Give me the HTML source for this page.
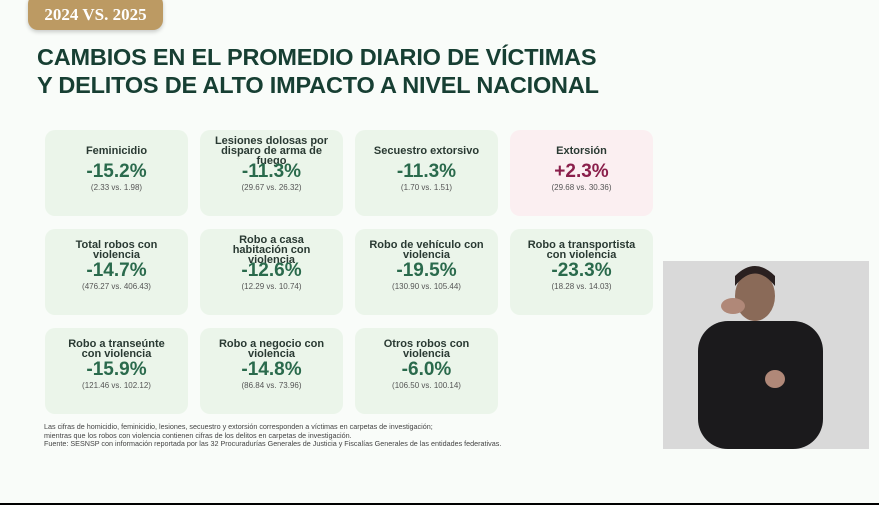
<!DOCTYPE html><html><head><meta charset="utf-8"><style>
body{margin:0;width:879px;height:505px;background:#f9fcf9;position:relative;overflow:hidden;font-family:"Liberation Sans",sans-serif}
.badge{position:absolute;left:28px;top:-6px;width:135px;height:36px;background:#bc9a63;border-radius:10px;color:#fff;font:bold 17px "Liberation Serif",serif;text-align:center;line-height:42px;box-shadow:0 2px 4px rgba(0,0,0,.2)}
.title{position:absolute;left:37px;top:43px;font-weight:bold;font-size:23.5px;line-height:28px;color:#173f33;letter-spacing:-0.2px}
.card{position:absolute;width:143px;height:86px;background:#ebf5ea;border-radius:10px;text-align:center;color:#2a3a33}
.card.r{background:#fbeff1}
.n{font-weight:bold;font-size:11px;line-height:10px;position:absolute;left:16px;right:16px}
.p{position:absolute;left:0;right:0;font-weight:bold;font-size:19px;color:#2a6a4c}
.r .p{color:#8a1f4b}
.s{position:absolute;left:0;right:0;font-size:8px;color:#555}
.foot{position:absolute;left:44px;top:423px;font-size:7.2px;line-height:8.5px;color:#444}
.vid{position:absolute;left:663px;top:261px;width:206px;height:188px;background:#dcdcdc}
.bot{position:absolute;left:0;top:503px;width:879px;height:2px;background:#000}
</style></head><body>
<div class="badge">2024 VS. 2025</div>
<div class="title">CAMBIOS EN EL PROMEDIO DIARIO DE VÍCTIMAS<br>Y DELITOS DE ALTO IMPACTO A NIVEL NACIONAL</div>

<div class="card" style="left:45px;top:130px"><div class="n" style="top:16px">Feminicidio</div><div class="p" style="top:31px">-15.2%</div><div class="s" style="top:53px">(2.33 vs. 1.98)</div></div>
<div class="card" style="left:200px;top:130px"><div class="n" style="top:6px;left:10px;right:10px">Lesiones dolosas por disparo de arma de fuego</div><div class="p" style="top:31px">-11.3%</div><div class="s" style="top:53px">(29.67 vs. 26.32)</div></div>
<div class="card" style="left:355px;top:130px"><div class="n" style="top:16px;left:0;right:0">Secuestro extorsivo</div><div class="p" style="top:31px">-11.3%</div><div class="s" style="top:53px">(1.70 vs. 1.51)</div></div>
<div class="card r" style="left:510px;top:130px"><div class="n" style="top:16px">Extorsión</div><div class="p" style="top:31px">+2.3%</div><div class="s" style="top:53px">(29.68 vs. 30.36)</div></div>

<div class="card" style="left:45px;top:229px"><div class="n" style="top:11px">Total robos con violencia</div><div class="p" style="top:31px">-14.7%</div><div class="s" style="top:53px">(476.27 vs. 406.43)</div></div>
<div class="card" style="left:200px;top:229px"><div class="n" style="top:6px;left:20px;right:20px">Robo a casa habitación con violencia</div><div class="p" style="top:31px">-12.6%</div><div class="s" style="top:53px">(12.29 vs. 10.74)</div></div>
<div class="card" style="left:355px;top:229px"><div class="n" style="top:11px;left:8px;right:8px">Robo de vehículo con violencia</div><div class="p" style="top:31px">-19.5%</div><div class="s" style="top:53px">(130.90 vs. 105.44)</div></div>
<div class="card" style="left:510px;top:229px"><div class="n" style="top:11px;left:10px;right:10px">Robo a transportista con violencia</div><div class="p" style="top:31px">-23.3%</div><div class="s" style="top:53px">(18.28 vs. 14.03)</div></div>

<div class="card" style="left:45px;top:328px"><div class="n" style="top:11px">Robo a transeúnte con violencia</div><div class="p" style="top:31px">-15.9%</div><div class="s" style="top:53px">(121.46 vs. 102.12)</div></div>
<div class="card" style="left:200px;top:328px"><div class="n" style="top:11px">Robo a negocio con violencia</div><div class="p" style="top:31px">-14.8%</div><div class="s" style="top:53px">(86.84 vs. 73.96)</div></div>
<div class="card" style="left:355px;top:328px"><div class="n" style="top:11px;left:22px;right:22px">Otros robos con violencia</div><div class="p" style="top:31px">-6.0%</div><div class="s" style="top:53px">(106.50 vs. 100.14)</div></div>

<div class="foot">Las cifras de homicidio, feminicidio, lesiones, secuestro y extorsión corresponden a víctimas en carpetas de investigación;<br>mientras que los robos con violencia contienen cifras de los delitos en carpetas de investigación.<br>Fuente: SESNSP con información reportada por las 32 Procuradurías Generales de Justicia y Fiscalías Generales de las entidades federativas.</div>

<div class="vid"><svg width="206" height="188"><rect width="206" height="188" fill="#d9d9d9"/><rect x="35" y="60" width="125" height="128" rx="30" fill="#1b1a1c"/><ellipse cx="92" cy="35" rx="20" ry="25" fill="#8a6a58"/><path d="M72 25 Q92 0 112 25 L112 15 Q92 -5 72 15Z" fill="#2a2020"/><ellipse cx="70" cy="45" rx="12" ry="8" fill="#b08878"/><ellipse cx="112" cy="118" rx="10" ry="9" fill="#b08878"/></svg></div>
<div class="bot"></div>
</body></html>
